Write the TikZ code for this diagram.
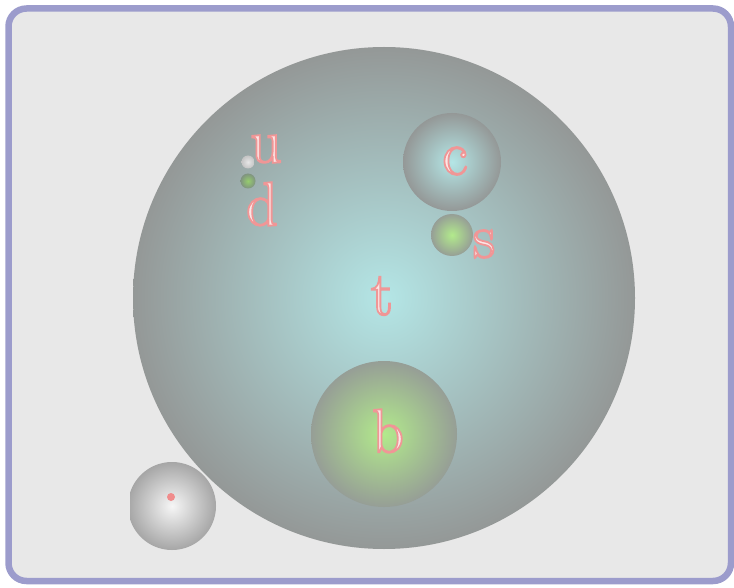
\documentclass[tikz,border=0pt]{standalone}
\usepackage{xcolor}
\usepackage{tikz}
\usetikzlibrary{positioning}
\definecolor{framepurple}{RGB}{156, 156, 204}
\definecolor{framegray}{RGB}{232, 232, 232}
\definecolor{labelwhite}{RGB}{252, 230, 230}
\definecolor{electronred}{RGB}{240, 140, 140}
\definecolor{ballcyan}{RGB}{180, 230, 230}
\definecolor{ballgray}{RGB}{148, 152, 151}
\definecolor{ballgreen}{RGB}{178, 234, 140}
\definecolor{greengray}{RGB}{150, 158, 150}
\definecolor{dotlight}{RGB}{230, 230, 230}
\definecolor{dotgray}{RGB}{196, 196, 196}
\definecolor{dotgreen}{RGB}{150, 205, 110}
\definecolor{dotgreengray}{RGB}{128, 148, 128}
\definecolor{atomwhite}{RGB}{246, 246, 246}
\definecolor{atomgray}{RGB}{166, 166, 166}
\pgfdeclareradialshading{cyanball}{\pgfpoint{0bp}{0bp}}{color(0bp)=(ballcyan); color(25bp)=(ballgray); color(50bp)=(ballgray)}
\pgfdeclareradialshading{greenball}{\pgfpoint{0bp}{0bp}}{color(0bp)=(ballgreen); color(25bp)=(greengray); color(50bp)=(greengray)}
\pgfdeclareradialshading{lightdot}{\pgfpoint{0bp}{0bp}}{color(0bp)=(dotlight); color(25bp)=(dotgray); color(50bp)=(dotgray)}
\pgfdeclareradialshading{greendot}{\pgfpoint{0bp}{0bp}}{color(0bp)=(dotgreen); color(25bp)=(dotgreengray); color(50bp)=(dotgreengray)}
\pgfdeclareradialshading{atomball}{\pgfpoint{0bp}{0bp}}{color(0bp)=(atomwhite); color(25bp)=(atomgray); color(50bp)=(atomgray)}
% pale fill, pink outline
\newcommand{\quarklabel}[1]{\textcolor{labelwhite}{\special{pdf:literal direct 2 Tr 1.8 w 0.94 0.59 0.59 RG}#1\special{pdf:literal direct 0 Tr}}}

\begin{document}
\begin{tikzpicture}[x=1pt, y=-1pt,
  ball/.style={circle, inner sep=0pt, draw=none},
  quark/.style={inner sep=0pt, font=\fontsize{62}{62}\selectfont}]
\useasboundingbox (0,0) rectangle (734,588);
\draw[framepurple, fill=framegray, line width=6.5pt, rounded corners=18pt] (8.5,8.5) rectangle (731,581);
% the particles
\node[ball, shading=cyanball, minimum size=502pt] (topball) at (384,298) {};
\node[ball, shading=cyanball, minimum size=98pt] (charmball) at (452,162) {};
\node[ball, shading=greenball, minimum size=42pt] (strangeball) at (452,235) {};
\node[ball, shading=greenball, minimum size=146pt] (bottomball) at (384,434) {};
\node[ball, shading=lightdot, minimum size=13pt] (upball) at (248,162) {};
\node[ball, shading=greendot, minimum size=15pt] (downball) at (248,181) {};
\begin{scope}
\clip (130,0) rectangle (734,588);
\node[ball, shading=atomball, minimum size=88pt] (atom) at (172,506) {};
\end{scope}
\node[ball, fill=electronred, minimum size=8pt] (electron) at (171,497) {};
% labels
\node[quark] (up) at (266,149) {\quarklabel{u}};
\node[quark] (down) at (262,204) {\quarklabel{d}};
\node[quark] (charm) at (455,161) {\quarklabel{c}};
\node[quark] (strange) at (484,244) {\quarklabel{s}};
\node[quark] (top) at (382,296) {\quarklabel{t}};
\node[quark] (bottom) at (388,431) {\quarklabel{b}};
\end{tikzpicture}
\end{document}
